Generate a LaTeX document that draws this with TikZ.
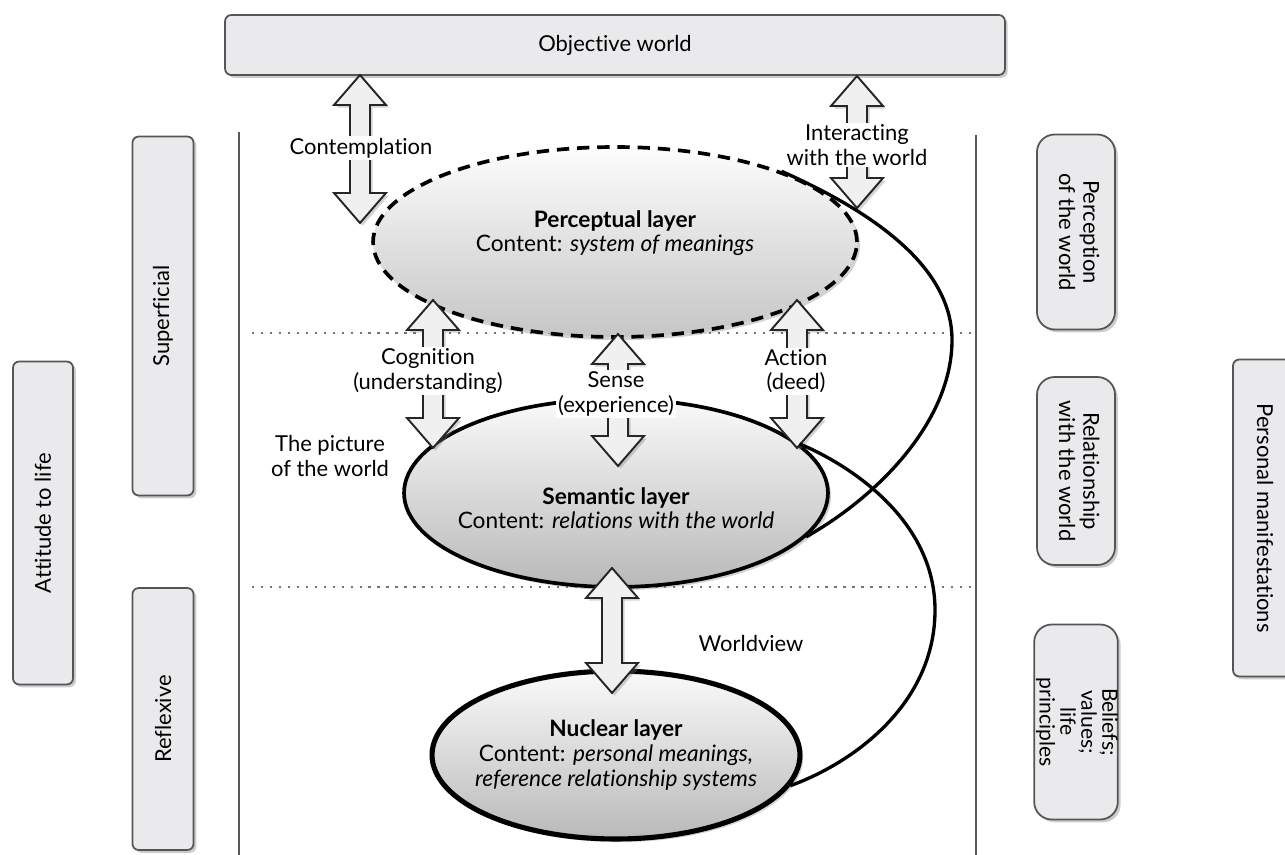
\documentclass[tikz,border=0pt]{standalone}
\usepackage{fontspec}
\setmainfont{Lato}[Ligatures=NoCommon]
\usepackage{graphicx}
\usetikzlibrary{shapes.geometric,shadows}

\definecolor{panelfill}{HTML}{EAEAEC}
\definecolor{paneledge}{HTML}{555555}

\tikzset{
  panel/.style={draw=paneledge, line width=1pt, fill=panelfill, rounded corners=3.5pt, inner sep=0pt,
    drop shadow={shadow xshift=1.6pt, shadow yshift=-1.6pt, opacity=.4}},
  roundpanel/.style={panel, rounded corners=10pt},
  layer/.style={ellipse, draw, line width=2.1pt, top color=gray!4, bottom color=gray!55, inner sep=0pt,
    drop shadow={shadow xshift=1.8pt, shadow yshift=-1.8pt, opacity=.35}},
  layertext/.style={align=center, font=\fontsize{12.9}{14}\selectfont},
  blockarrow/.style={draw=black!85, line width=1.1pt, fill=gray!12, line join=miter,
    drop shadow={shadow xshift=1.5pt, shadow yshift=-1.5pt, opacity=.35}},
  tag/.style={fill=white, inner sep=1pt, align=center},
  link/.style={line width=1.9pt},
  sideline/.style={draw=black!65, line width=1.1pt},
  divider/.style={draw=black!55, line width=1.5pt, dash pattern=on 1.3pt off 3.8pt},
}

% double block arrow: x, top tip, bottom tip
\newcommand{\dblarrow}[3]{%
  \pgfmathsetmacro{\shaftlen}{#3-#2-60}
  \draw[blockarrow] (#1,#2) -- ++(26,30) -- ++(-16,0) -- ++(0,\shaftlen) -- ++(16,0) -- (#1,#3)
    -- ++(-26,-30) -- ++(16,0) -- ++(0,-\shaftlen) -- ++(-16,0) -- cycle;
}

\begin{document}
\begin{tikzpicture}[x=0.02cm, y=-0.02cm, font=\fontsize{12.5}{13.8}\selectfont]
\useasboundingbox (0,0) rectangle (1285,855);

% frame
\node[panel, minimum width=15.6cm, minimum height=1.2cm] (world) at (615,45) {Objective world};
\draw[sideline] (239,132) -- (239,855);
\draw[sideline] (976,135) -- (976,855);

% left side
\node[panel, minimum width=1.2cm, minimum height=6.46cm] (attitude) at (43,523) {\rotatebox{90}{Attitude to life}};
\node[panel, minimum width=1.22cm, minimum height=7.18cm] (superficial) at (163,316) {\rotatebox{90}{Superficial}};
\node[panel, minimum width=1.22cm, minimum height=5.24cm] (reflexive) at (163,719) {\rotatebox{90}{Reflexive}};

% right side
\node[roundpanel, minimum width=1.56cm, minimum height=3.9cm] (perception) at (1076,232)
  {\rotatebox{-90}{\begin{tabular}{@{}c@{}}Perception\\of the world\end{tabular}}};
\node[roundpanel, minimum width=1.56cm, minimum height=3.76cm] (relation) at (1076,471)
  {\rotatebox{-90}{\begin{tabular}{@{}c@{}}Relationship\\with the world\end{tabular}}};
\node[roundpanel, minimum width=1.56cm, minimum height=3.9cm] (beliefs) at (1076,722)
  {\rotatebox{-90}{\fontsize{12}{10.2}\selectfont\begin{tabular}{@{}c@{}}Beliefs;\\values;\\life\\principles\end{tabular}}};
\node[panel, minimum width=1.28cm, minimum height=6.34cm] (personal) at (1265,518) {\rotatebox{-90}{Personal manifestations}};

% levels
\draw[divider] (252,333) -- (972,333);
\draw[divider] (252,587) -- (972,587);

% layers
\node[layer, dash pattern=on 7pt off 4.5pt, top color=gray!2, bottom color=gray!45,
  minimum width=9.68cm, minimum height=3.8cm] (perc) at (615,242) {};
\node[layer, minimum width=8.48cm, minimum height=3.76cm] (sem) at (616,493) {};
\node[layer, line width=2.9pt, minimum width=7.36cm, minimum height=3.36cm] (nuc) at (616,755) {};

\node[layertext] (perctext) at ([yshift=0.18cm]perc.center) {\textbf{Perceptual layer}\\Content: \textit{system of meanings}};
\node[layertext] (semtext) at ([yshift=-0.3cm]sem.center) {\textbf{Semantic layer}\\Content: \textit{relations with the world}};
\node[layertext] (nuctext) at (nuc.center) {\textbf{Nuclear layer}\\Content: \textit{personal meanings,}\\\textit{reference relationship systems}};

% block arrows
\dblarrow{360}{75}{223}
\dblarrow{857}{76}{208}
\dblarrow{433}{300}{448}
\dblarrow{618}{334}{466}
\dblarrow{797}{300}{448}
\dblarrow{612}{568}{693}

% connections
\draw[link] (perc.23) .. controls (880,215) and (952,270) .. (952,340)
  .. controls (952,420) and (880,495) .. (sem.-13);
\draw[link] (sem.15) .. controls (850,465) and (935,520) .. (935,610)
  .. controls (935,700) and (860,760) .. (nuc.-10);

% labels
\node[tag] (contemplation) at (361,148) {Contemplation};
\node[tag] (interacting) at (857,145) {Interacting\\with the world};
\node[tag] (cognition) at (428,371) {Cognition\\(understanding)};
\node[tag] (sense) at (616,394) {Sense\\(experience)};
\node[tag] (action) at (796,371) {Action\\(deed)};
\node[align=center] (picture) at (330,456) {The picture\\of the world};
\node (worldview) at (751,643) {Worldview};
\end{tikzpicture}
\end{document}
